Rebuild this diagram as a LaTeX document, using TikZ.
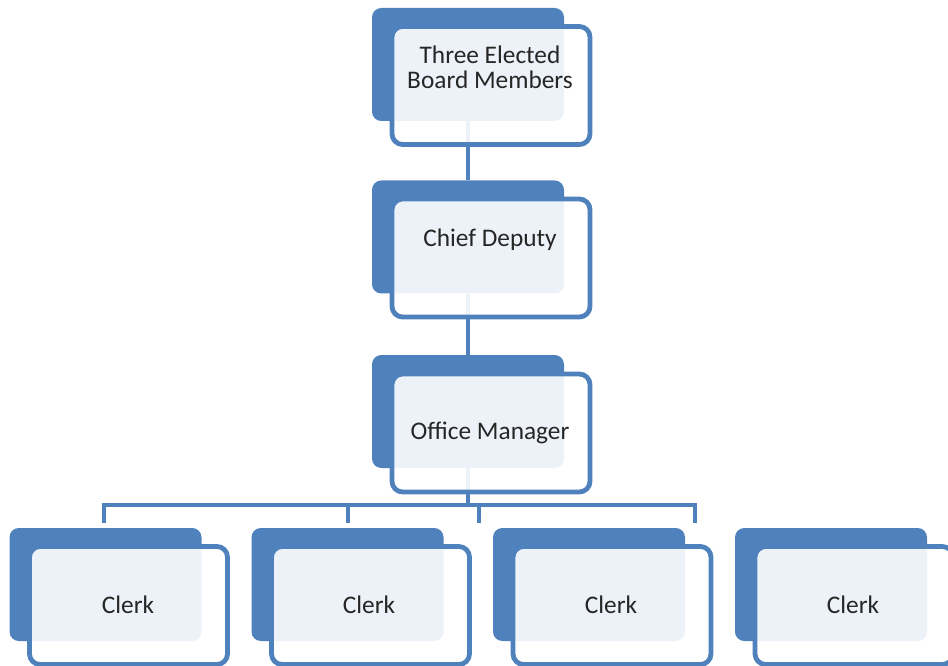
\documentclass[tikz,border=0pt]{standalone}
\usepackage{fontspec}
\setmainfont{Carlito}
\usepackage{tikz}
\definecolor{orgblue}{HTML}{4F81BD}
\begin{document}
\begin{tikzpicture}[x=0.75pt,y=-0.75pt,
	back/.style={fill=orgblue,rounded corners=7pt,minimum width=144pt,minimum height=84.75pt,inner sep=0pt},
	front/.style={draw=orgblue,line width=3.6pt,fill=white,fill opacity=0.9,rounded corners=8pt,minimum width=148.5pt,minimum height=88.5pt,inner sep=0pt},
	link/.style={draw=orgblue,line width=3.6pt},
	lbl/.style={font=\fontsize{19}{19}\selectfont,align=center,text=black!85}]
			\useasboundingbox(0,0)rectangle(948,666);
			\node[back](b1)at(468,64.5){};
			\node[back](b2)at(468,237){};
			\node[back](b3)at(468,411.5){};
			\node[back](c1)at(105.5,584.5){};
			\node[back](c2)at(347.5,584.5){};
			\node[back](c3)at(589,584.5){};
			\node[back](c4)at(831,584.5){};
			\coordinate(t1)at(104,505);
			\coordinate(t2)at(348,505);
			\coordinate(t3)at(479,505);
			\coordinate(t4)at(695,505);
			\coordinate(d1)at(104,523);
			\coordinate(d2)at(348,523);
			\coordinate(d3)at(479,523);
			\coordinate(d4)at(695,523);
			\draw[link](b1.south)--(b2.north);
			\draw[link](b2.south)--(b3.north);
			\draw[link](b3.south)--(b3.south|-t1);
			\draw[link](d1)--(t1)--(t4)--(d4);
			\draw[link](t2)--(d2);
			\draw[link](t3)--(d3);
			\node[front](f1)at(491,85.5){};
			\node[front](f2)at(491,258){};
			\node[front](f3)at(491,433){};
			\node[front](g1)at(128.5,605.5){};
			\node[front](g2)at(370.5,605.5){};
			\node[front](g3)at(612,605.5){};
			\node[front](g4)at(854,605.5){};
			\node[lbl](l1)at(490,67){Three Elected\\Board Members};
			\node[lbl](l2)at(490,240){Chief Deputy};
			\node[lbl](l3)at(490,433){Office Manager};
			\node[lbl](k1)at(128,605){Clerk};
			\node[lbl](k2)at(369,605){Clerk};
			\node[lbl](k3)at(611,605){Clerk};
			\node[lbl](k4)at(853,605){Clerk};
		\end{tikzpicture}
\end{document}
